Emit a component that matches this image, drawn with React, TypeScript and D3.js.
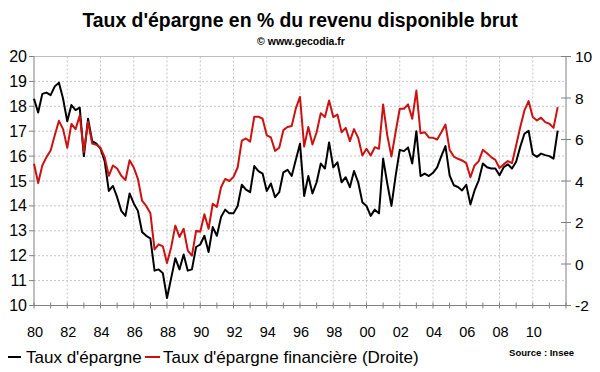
import React from "react";
import * as d3 from "d3";

// quarterly values, 1980 Q1 -> 2011 Q3
const startYear = 1980;

const tauxEpargne = [
  18.3, 17.75, 18.5, 18.55, 18.45, 18.8, 18.95, 18.3, 17.4, 18.05, 17.85, 17.95,
  16.0, 17.5, 16.6, 16.5, 16.3, 15.8, 14.6, 14.8, 14.35, 13.8, 13.6, 14.5,
  14.1, 13.8, 12.95, 12.8, 12.7, 11.4, 11.45, 11.3, 10.3, 11.1, 11.9, 11.45,
  12.05, 11.4, 11.45, 12.35, 12.45, 12.8, 12.15, 13.15, 12.8, 13.55, 13.85, 13.7,
  13.7, 14.0, 14.85, 14.65, 14.55, 15.6, 15.4, 15.3, 14.6, 14.9, 14.35, 14.55,
  15.35, 15.45, 15.2, 15.85, 16.5, 14.4, 15.2, 14.5, 14.95, 15.7, 15.5, 16.55,
  15.55, 15.75, 14.95, 15.15, 14.75, 15.4, 14.95, 14.15, 14.0, 13.6, 13.85, 13.7,
  15.9, 14.9, 14.0, 15.2, 16.25, 16.2, 16.35, 15.7, 17.0, 15.2, 15.3, 15.2,
  15.33, 15.55, 16.0, 16.4, 15.23, 14.83, 14.76, 14.62, 14.85, 14.06, 14.62, 15.03,
  15.7, 15.55, 15.5, 15.5, 15.23, 15.55, 15.67, 15.5, 15.77, 16.38, 16.9, 17.02,
  16.08, 15.97, 16.1, 16.04, 16.0, 15.9, 17.02,
];

const tauxFinancier = [
  4.83, 3.9, 4.75, 5.15, 5.47, 6.2, 6.9, 6.5, 5.6, 6.75, 6.5, 7.15,
  5.4, 6.85, 5.8, 5.75, 5.6, 5.15, 4.25, 4.75, 4.6, 4.25, 4.05, 5.0,
  4.65, 4.1, 3.05, 2.8, 2.45, 0.7, 0.95, 0.85, 0.05, 0.8, 1.85, 1.3,
  1.7, 0.65, 0.4, 1.6, 1.55, 2.4, 1.7, 2.9, 2.75, 3.7, 4.1, 4.0,
  4.2, 4.65, 5.95, 6.05, 5.9, 7.1, 7.1, 7.0, 6.2, 6.1, 5.45, 5.6,
  6.45, 6.6, 6.65, 7.5, 8.05, 5.66, 6.6, 5.76, 6.35, 7.27, 7.08, 7.88,
  7.08, 7.2, 6.35, 6.56, 5.92, 6.5, 6.08, 5.23, 5.55, 5.23, 5.63, 5.55,
  7.69, 6.2, 5.18, 6.35, 7.48, 7.48, 7.69, 7.0, 8.36, 6.3, 6.35, 6.1,
  6.08, 6.0, 6.35, 6.72, 5.5, 5.18, 5.07, 4.99, 4.86, 4.18, 4.75, 4.96,
  5.5, 5.34, 5.15, 5.02, 4.63, 4.8, 4.96, 4.86, 5.71, 6.6, 7.4, 7.85,
  7.08, 6.92, 7.05, 6.84, 6.76, 6.56, 7.56,
];

const xLabels = ["80", "82", "84", "86", "88", "90", "92", "94", "96", "98", "00", "02", "04", "06", "08", "10"];
const leftTicks = [10, 11, 12, 13, 14, 15, 16, 17, 18, 19, 20];
const rightTicks = [-2, 0, 2, 4, 6, 8, 10];

const W = 600;
const H = 372;
const left = 34;
const right = 566;
const top = 56.5;
const bottom = 305.5;
const font = "'Liberation Sans', Arial, sans-serif";
const red = "#cc1111";

export default function App() {
  const x = d3.scaleLinear().domain([startYear, startYear + 32]).range([left, right]);
  const yL = d3.scaleLinear().domain([10, 20]).range([bottom, top]);
  const yR = d3.scaleLinear().domain([-2, 10]).range([bottom, top]);

  const yearTicks = d3.range(startYear, startYear + 33);
  const gridYears = d3.range(startYear + 2, startYear + 32, 2);

  const lineL = d3
    .line<number>()
    .x((_, i) => x(startYear + i / 4))
    .y((d) => yL(d));
  const lineR = d3
    .line<number>()
    .x((_, i) => x(startYear + i / 4))
    .y((d) => yR(d));

  return (
    <svg width={W} height={H} style={{ position: "absolute", left: 0, top: 0, background: "#fff" }} fontFamily={font}>
      <text x={300} y={27} textAnchor="middle" fontSize={19.4} fontWeight="bold" fill="#000">
        Taux d'épargne en % du revenu disponible brut
      </text>
      <text x={301} y={45} textAnchor="middle" fontSize={10.5} fontWeight="bold" fill="#000">
        © www.gecodia.fr
      </text>

      {/* grid */}
      {leftTicks.slice(1, -1).map((t) => (
        <line key={"h" + t} x1={left} x2={right} y1={yL(t)} y2={yL(t)} stroke="#c4c4c4" strokeDasharray="2,2" />
      ))}
      {gridYears.map((yr) => (
        <line key={"v" + yr} x1={x(yr)} x2={x(yr)} y1={top} y2={bottom} stroke="#c4c4c4" strokeDasharray="2,2" />
      ))}
      <line x1={left} x2={right} y1={top} y2={top} stroke="#bdbdbd" />

      {/* axes */}
      <line x1={left} x2={left} y1={top} y2={bottom} stroke="#808080" />
      <line x1={right} x2={right} y1={top} y2={bottom} stroke="#808080" />
      <line x1={left} x2={right} y1={bottom} y2={bottom} stroke="#808080" />
      {leftTicks.map((t) => (
        <g key={"l" + t}>
          <line x1={left - 5} x2={left} y1={yL(t)} y2={yL(t)} stroke="#808080" />
          <text x={27} y={yL(t) + 5.5} textAnchor="end" fontSize={16} fill="#000">
            {t}
          </text>
        </g>
      ))}
      {rightTicks.map((t) => (
        <g key={"r" + t}>
          <line x1={right - 5} x2={right + 5} y1={yR(t)} y2={yR(t)} stroke="#808080" />
          <text x={575} y={yR(t) + 5.5} textAnchor="start" fontSize={15.5} fill="#000">
            {t}
          </text>
        </g>
      ))}
      {yearTicks.map((yr) => (
        <line key={"t" + yr} x1={x(yr)} x2={x(yr)} y1={bottom - 3} y2={bottom + 3} stroke="#808080" />
      ))}
      {xLabels.map((lab, i) => (
        <text key={lab} x={x(startYear + i * 2) + 1} y={337} textAnchor="middle" fontSize={14.5} fill="#000">
          {lab}
        </text>
      ))}

      {/* series */}
      <path d={lineL(tauxEpargne) ?? ""} fill="none" stroke="#000" strokeWidth={2} strokeLinejoin="round" />
      <path d={lineR(tauxFinancier) ?? ""} fill="none" stroke={red} strokeWidth={2} strokeLinejoin="round" />

      {/* legend */}
      <line x1={8} x2={21} y1={357} y2={357} stroke="#000" strokeWidth={2} />
      <text x={26} y={363} fontSize={17} fill="#000">
        Taux d'épargne
      </text>
      <line x1={145} x2={160} y1={357} y2={357} stroke={red} strokeWidth={2} />
      <text x={163} y={363} fontSize={17} fill="#000">
        Taux d'épargne financière (Droite)
      </text>
      <text x={574} y={356} textAnchor="end" fontSize={9.5} fontWeight="bold" fill="#000">
        Source : Insee
      </text>
    </svg>
  );
}
